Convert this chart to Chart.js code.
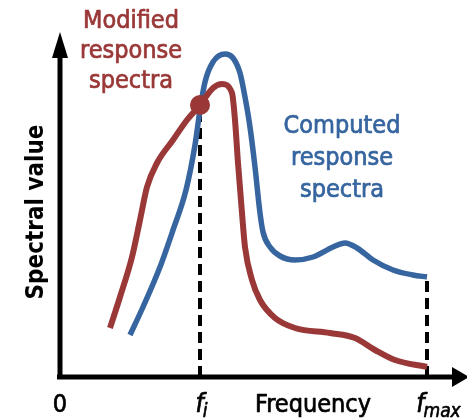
<!DOCTYPE html>
<html>
<head>
<meta charset="utf-8">
<script src="https://cdn.jsdelivr.net/npm/chart.js@4"></script>
<style>
html,body{margin:0;padding:0;background:#fff;}
#wrap{width:467px;height:419px;}
</style>
</head>
<body>
<div id="wrap"><canvas id="c" width="467" height="419"></canvas></div>
<script>
// Modified response spectra (red)
const redFreq = [50,60,72,80,87,97,113,127,140,153,162,172,175,178,182,185,192,200,215,235,270,295,315,335,367];
const redVal  = [49,80,120,157,190,214,237,257,272,289,293,284,257,214,164,130,97,77,59,49,44,39,27,17,10];
// Computed response spectra (blue)
const blueFreq = [70,83,100,113,126,135,140,145,153,165,173,180,185,190,195,200,203,210,220,235,253,273,285,297,313,333,353,367];
const blueVal  = [42,70,110,147,187,232,267,295,315,323,319,304,280,250,210,164,145,130,121,117,120,130,134,129,117,107,102,100];
// key frequencies
const fI = 140, fMax = 367;
const dotVal = 272;
const fMaxVal = 100;
const xTickLabels = ["0", "f|i", "Frequency", "f|max"];
const xTickPos = [0, fI, 253, fMax];

const RED = '#9a3838', BLUE = '#36659f';
const FONT = '"DejaVu Sans Condensed", "DejaVu Sans", sans-serif';

const toPts = (xs, ys) => xs.map((x, i) => ({x, y: ys[i]}));

function txt(ctx, t, px, py, color, w) {
  ctx.fillStyle = color; ctx.strokeStyle = color; ctx.lineWidth = w; ctx.lineJoin = 'round';
  ctx.fillText(t, px, py);
  if (w > 0) ctx.strokeText(t, px, py);
}

const decor = {
  id: 'decor',
  beforeDatasetsDraw(chart) {
    const {ctx, scales: {x, y}} = chart;
    const x0 = x.getPixelForValue(0), y0 = y.getPixelForValue(0);
    const yTop = y.getPixelForValue(y.max), xEnd = x.getPixelForValue(x.max);
    ctx.save();
    ctx.strokeStyle = '#000'; ctx.fillStyle = '#000'; ctx.lineWidth = 5;
    ctx.beginPath();
    ctx.moveTo(x0, y0 + 2.5); ctx.lineTo(x0, yTop + 22);
    ctx.moveTo(x0 - 3, y0); ctx.lineTo(xEnd - 14, y0);
    ctx.stroke();
    // arrows
    ctx.beginPath();
    ctx.moveTo(x0, yTop); ctx.lineTo(x0 - 8, yTop + 26); ctx.lineTo(x0 + 8, yTop + 26); ctx.closePath(); ctx.fill();
    ctx.beginPath();
    ctx.moveTo(xEnd + 2, y0); ctx.lineTo(xEnd - 15, y0 - 10); ctx.lineTo(xEnd - 15, y0 + 10); ctx.closePath(); ctx.fill();
    ctx.restore();
  },
  afterDatasetsDraw(chart) {
    const {ctx, scales: {x, y}} = chart;
    ctx.save();
    ctx.textAlign = 'center'; ctx.textBaseline = 'alphabetic';
    // series labels
    ctx.font = '25px ' + FONT;
    ['Modified', 'response', 'spectra'].forEach((t, i) => {
      txt(ctx, t, x.getPixelForValue(71), y.getPixelForValue(349 - 30 * i), RED, 0.7);
    });
    ['Computed', 'response', 'spectra'].forEach((t, i) => {
      txt(ctx, t, x.getPixelForValue(282), y.getPixelForValue(244 - 32 * i), BLUE, 0.7);
    });
    // y title
    ctx.font = 'bold 24px ' + FONT;
    ctx.translate(x.getPixelForValue(-17), y.getPixelForValue(165));
    ctx.rotate(-Math.PI / 2);
    txt(ctx, 'Spectral value', 0, 0, '#000', 0);
    ctx.restore();
    // x tick labels
    ctx.save();
    ctx.textBaseline = 'alphabetic';
    const base = y.getPixelForValue(0) + 35;
    xTickLabels.forEach((lab, i) => {
      const px = x.getPixelForValue(xTickPos[i]);
      if (lab.includes('|')) {
        const [main, sub] = lab.split('|');
        ctx.font = 'italic 26px ' + FONT;
        const w1 = ctx.measureText(main).width;
        ctx.font = 'italic 19px ' + FONT;
        const w2 = ctx.measureText(sub).width;
        const start = px - (w1 + w2) / 2 + (sub.length > 1 ? 12 : 2);
        ctx.textAlign = 'left';
        ctx.font = 'italic 26px ' + FONT;
        txt(ctx, main, start, base, '#000', 0.7);
        ctx.font = 'italic 19px ' + FONT;
        txt(ctx, sub, start + w1 - 1, base + 5, '#000', 0.6);
      } else {
        ctx.textAlign = 'center';
        ctx.font = '25px ' + FONT;
        txt(ctx, lab, px, base, '#000', 0.7);
      }
    });
    ctx.restore();
  }
};

new Chart(document.getElementById('c'), {
  type: 'scatter',
  data: {
    datasets: [
      {label: 'dot', data: [{x: fI, y: dotVal}], pointRadius: 10, pointBackgroundColor: RED, pointBorderWidth: 0, showLine: false, order: 0},
      {label: 'Modified response spectra', data: toPts(redFreq, redVal), borderColor: RED, borderWidth: 6, showLine: true, pointRadius: 0, cubicInterpolationMode: 'monotone', borderCapStyle: 'butt', order: 1},
      {label: 'Computed response spectra', data: toPts(blueFreq, blueVal), borderColor: BLUE, borderWidth: 5.5, showLine: true, pointRadius: 0, cubicInterpolationMode: 'monotone', borderCapStyle: 'butt', order: 2},
      {label: 'fi', data: [{x: fI, y: 0}, {x: fI, y: dotVal}], borderColor: '#000', borderWidth: 4, borderDash: [11, 6], showLine: true, pointRadius: 0, order: 3},
      {label: 'fmax', data: [{x: fMax, y: 0}, {x: fMax, y: fMaxVal}], borderColor: '#000', borderWidth: 4, borderDash: [11, 6], showLine: true, pointRadius: 0, order: 3}
    ]
  },
  options: {
    responsive: false,
    animation: false,
    events: [],
    layout: {autoPadding: false, padding: {left: 60, right: 0, top: 32, bottom: 42}},
    plugins: {legend: {display: false}, tooltip: {enabled: false}},
    scales: {
      x: {type: 'linear', display: false, min: 0, max: 407},
      y: {type: 'linear', display: false, min: 0, max: 345}
    }
  },
  plugins: [decor]
});
</script>
</body>
</html>
